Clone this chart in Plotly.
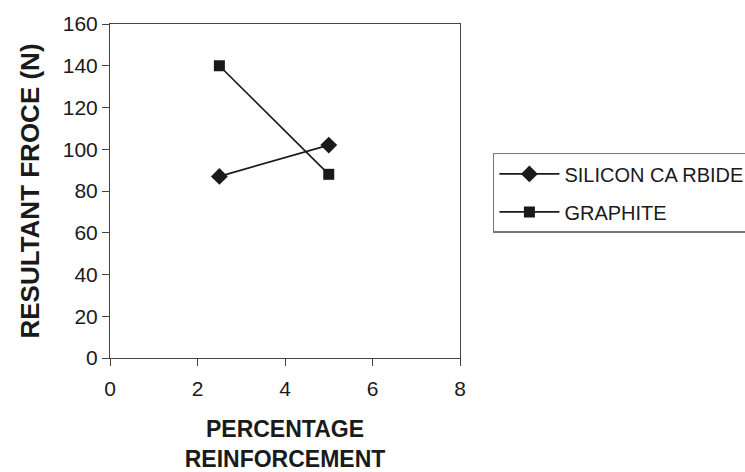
import plotly.graph_objects as go

x_pct = [2.5, 5]
silicon_carbide = [87, 102]
graphite = [140, 88]
x_ticks = [0, 2, 4, 6, 8]
y_ticks = [0, 20, 40, 60, 80, 100, 120, 140, 160]

FONT = "Liberation Sans, Arial, sans-serif"
INK = "#1a1a1a"

fig = go.Figure()
fig.add_trace(go.Scatter(
    x=x_pct, y=silicon_carbide, name="SILICON CA RBIDE", mode="lines+markers",
    line=dict(color=INK, width=1.7),
    marker=dict(symbol="diamond", size=13, color=INK),
    legendgroup="a",
))
fig.add_trace(go.Scatter(
    x=x_pct, y=graphite, name="GRAPHITE", mode="lines+markers",
    line=dict(color=INK, width=1.7),
    marker=dict(symbol="square", size=11, color=INK),
    legendgroup="b",
))

fig.update_layout(
    width=745, height=472,
    margin=dict(l=110, r=285, t=24, b=114, autoexpand=False),
    paper_bgcolor="white", plot_bgcolor="white",
    font=dict(family=FONT, color=INK),
    showlegend=True,
    legend=dict(
        x=1.094, y=0.614, xanchor="left", yanchor="top",
        bordercolor="#777", borderwidth=1.5,
        font=dict(size=20, family=FONT, color=INK),
        itemwidth=60, traceorder="grouped", tracegroupgap=9,
        bgcolor="white",
    ),
    xaxis=dict(
        range=[0, 8], tickvals=x_ticks, showgrid=False, zeroline=False,
        showline=True, linecolor="#444", linewidth=1, mirror=True,
        ticks="outside", ticklen=7, tickcolor="#444",
        ticklabelstandoff=5,
        tickfont=dict(size=21, family=FONT, color=INK),
        title=dict(text="<b>PERCENTAGE<br>REINFORCEMENT</b>",
                   font=dict(size=23, family=FONT, color=INK), standoff=29),
    ),
    yaxis=dict(
        range=[0, 160], tickvals=y_ticks, showgrid=False, zeroline=False,
        showline=True, linecolor="#444", linewidth=1, mirror=True,
        ticks="outside", ticklen=7, tickcolor="#444",
        tickfont=dict(size=21, family=FONT, color=INK),
        title=dict(text="<b>RESULTANT FROCE (N)</b>",
                   font=dict(size=26, family=FONT, color=INK), standoff=15),
    ),
)

fig.write_html("out.html", config={"displayModeBar": False},
               post_script="document.body.style.margin='0px';")
